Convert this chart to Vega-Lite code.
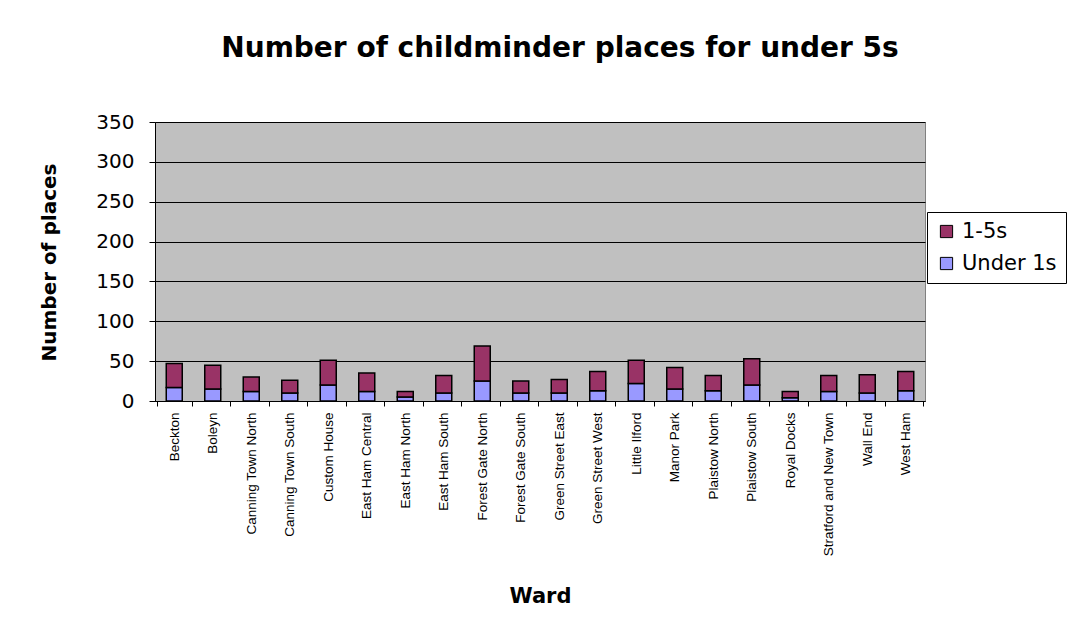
{
  "$schema": "https://vega.github.io/schema/vega-lite/v6.json",
  "width": 770,
  "height": 279,
  "autosize": {"type": "none"},
  "padding": {"left": 155, "top": 122, "right": 166, "bottom": 216},
  "background": "white",
  "title": {
    "text": "Number of childminder places for under 5s",
    "font": "DejaVu Sans",
    "fontSize": 28,
    "fontWeight": "bold",
    "color": "black",
    "anchor": "middle",
    "baseline": "alphabetic",
    "offset": 27,
    "dx": 20
  },
  "data": {
    "values": [
      {"ward": "Beckton", "group": "Under 1s", "ord": 1, "places": 17},
      {"ward": "Beckton", "group": "1-5s", "ord": 2, "places": 30},
      {"ward": "Boleyn", "group": "Under 1s", "ord": 1, "places": 15},
      {"ward": "Boleyn", "group": "1-5s", "ord": 2, "places": 30},
      {"ward": "Canning Town North", "group": "Under 1s", "ord": 1, "places": 12},
      {"ward": "Canning Town North", "group": "1-5s", "ord": 2, "places": 18},
      {"ward": "Canning Town South", "group": "Under 1s", "ord": 1, "places": 10},
      {"ward": "Canning Town South", "group": "1-5s", "ord": 2, "places": 16},
      {"ward": "Custom House", "group": "Under 1s", "ord": 1, "places": 20},
      {"ward": "Custom House", "group": "1-5s", "ord": 2, "places": 31},
      {"ward": "East Ham Central", "group": "Under 1s", "ord": 1, "places": 12},
      {"ward": "East Ham Central", "group": "1-5s", "ord": 2, "places": 23},
      {"ward": "East Ham North", "group": "Under 1s", "ord": 1, "places": 5},
      {"ward": "East Ham North", "group": "1-5s", "ord": 2, "places": 7},
      {"ward": "East Ham South", "group": "Under 1s", "ord": 1, "places": 10},
      {"ward": "East Ham South", "group": "1-5s", "ord": 2, "places": 22},
      {"ward": "Forest Gate North", "group": "Under 1s", "ord": 1, "places": 25},
      {"ward": "Forest Gate North", "group": "1-5s", "ord": 2, "places": 44},
      {"ward": "Forest Gate South", "group": "Under 1s", "ord": 1, "places": 10},
      {"ward": "Forest Gate South", "group": "1-5s", "ord": 2, "places": 15},
      {"ward": "Green Street East", "group": "Under 1s", "ord": 1, "places": 10},
      {"ward": "Green Street East", "group": "1-5s", "ord": 2, "places": 17},
      {"ward": "Green Street West", "group": "Under 1s", "ord": 1, "places": 13},
      {"ward": "Green Street West", "group": "1-5s", "ord": 2, "places": 24},
      {"ward": "Little Ilford", "group": "Under 1s", "ord": 1, "places": 22},
      {"ward": "Little Ilford", "group": "1-5s", "ord": 2, "places": 29},
      {"ward": "Manor Park", "group": "Under 1s", "ord": 1, "places": 15},
      {"ward": "Manor Park", "group": "1-5s", "ord": 2, "places": 27},
      {"ward": "Plaistow North", "group": "Under 1s", "ord": 1, "places": 13},
      {"ward": "Plaistow North", "group": "1-5s", "ord": 2, "places": 19},
      {"ward": "Plaistow South", "group": "Under 1s", "ord": 1, "places": 20},
      {"ward": "Plaistow South", "group": "1-5s", "ord": 2, "places": 33},
      {"ward": "Royal Docks", "group": "Under 1s", "ord": 1, "places": 4},
      {"ward": "Royal Docks", "group": "1-5s", "ord": 2, "places": 8},
      {"ward": "Stratford and New Town", "group": "Under 1s", "ord": 1, "places": 12},
      {"ward": "Stratford and New Town", "group": "1-5s", "ord": 2, "places": 20},
      {"ward": "Wall End", "group": "Under 1s", "ord": 1, "places": 10},
      {"ward": "Wall End", "group": "1-5s", "ord": 2, "places": 23},
      {"ward": "West Ham", "group": "Under 1s", "ord": 1, "places": 13},
      {"ward": "West Ham", "group": "1-5s", "ord": 2, "places": 24}
    ]
  },
  "mark": {"type": "bar", "size": 16, "stroke": "black", "strokeWidth": 1.5},
  "encoding": {
    "x": {
      "field": "ward",
      "type": "nominal",
      "sort": null,
      "title": "Ward",
      "axis": {
        "labelAngle": 270,
        "labelAlign": "right",
        "labelBaseline": "middle",
        "labelFont": "Liberation Sans",
        "labelFontSize": 13.5,
        "labelColor": "black",
        "labelPadding": 6,
        "labelLimit": 300,
        "tickBand": "extent",
        "tickColor": "black",
        "tickSize": 5,
        "domainColor": "black",
        "titleFont": "DejaVu Sans",
        "titleFontSize": 21,
        "titleFontWeight": "bold",
        "titleColor": "black",
        "titleY": 201,
        "titleBaseline": "alphabetic"
      }
    },
    "y": {
      "field": "places",
      "type": "quantitative",
      "aggregate": "sum",
      "stack": "zero",
      "title": "Number of places",
      "scale": {"domain": [0, 350], "nice": false},
      "axis": {
        "values": [0, 50, 100, 150, 200, 250, 300, 350],
        "labelFont": "DejaVu Sans",
        "labelFontSize": 20,
        "labelColor": "black",
        "labelPadding": 15,
        "tickColor": "black",
        "tickSize": 6,
        "domainColor": "black",
        "gridColor": "black",
        "gridWidth": 1,
        "titleFont": "DejaVu Sans",
        "titleFontSize": 20,
        "titleFontWeight": "bold",
        "titleColor": "black",
        "titleX": -100,
        "titleY": 140,
        "titleAlign": "center",
        "titleBaseline": "alphabetic"
      }
    },
    "color": {
      "field": "group",
      "type": "nominal",
      "scale": {"domain": ["1-5s", "Under 1s"], "range": ["#993366", "#9999FF"]},
      "legend": {
        "title": null,
        "orient": "none",
        "legendX": 772,
        "legendY": 90,
        "padding": 9,
        "fillColor": "white",
        "strokeColor": "black",
        "symbolType": "square",
        "symbolSize": 150,
        "symbolStrokeColor": "black",
        "symbolStrokeWidth": 1,
        "labelFont": "DejaVu Sans",
        "labelFontSize": 21,
        "labelColor": "black",
        "rowPadding": 10,
        "labelOffset": 5
      }
    },
    "order": {"field": "ord", "type": "quantitative"}
  },
  "config": {
    "view": {"fill": "#C0C0C0", "stroke": "#808080", "strokeWidth": 1},
    "axis": {"gridOpacity": 1}
  }
}
